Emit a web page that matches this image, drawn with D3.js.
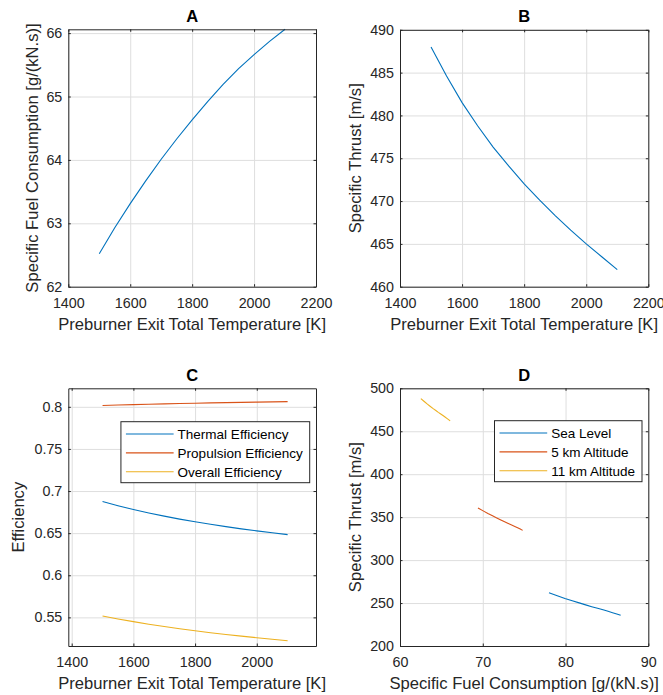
<!DOCTYPE html>
<html>
<head>
<meta charset="utf-8">
<script src="https://cdn.jsdelivr.net/npm/d3@7"></script>
<style>
  body { margin: 0; background: #fff; }
  svg { font-family: "Liberation Sans", Arial, Helvetica, sans-serif; }
  .grid line { stroke: #dedede; stroke-width: 1; }
  .grid path { display: none; }
  .axis path, .axis line { stroke: #262626; stroke-width: 1; }
  .axis text { fill: #262626; font-size: 14.3px; }
  .lab { fill: #262626; font-size: 16.6px; }
  .ttl { fill: #000; font-size: 16.5px; font-weight: bold; }
  .leg text { fill: #000; font-size: 13.5px; }
</style>
</head>
<body>
<svg id="chart" width="663" height="695"></svg>
<script>
// preburner exit total temperature [K]
var temps = [1500, 1550, 1600, 1650, 1700, 1750, 1800, 1850, 1900, 1950, 2000, 2050, 2100];

// 11 km altitude (panels A, B, D)
var sfc11 = [62.52, 62.93, 63.31, 63.67, 64.01, 64.33, 64.63, 64.92, 65.19, 65.44, 65.66, 65.87, 66.06];
var thrust11 = [488.0, 484.6, 481.5, 478.8, 476.3, 474.1, 472.0, 470.1, 468.3, 466.6, 465.0, 463.5, 462.0];

// efficiencies (panel C)
var thermalEff = [0.6875, 0.6826, 0.6781, 0.6740, 0.6702, 0.6667, 0.6635, 0.6605, 0.6577, 0.6551, 0.6527, 0.6504, 0.6482];
var propulsionEff = [0.8016, 0.8021, 0.8026, 0.8031, 0.8035, 0.8039, 0.8043, 0.8047, 0.8050, 0.8053, 0.8056, 0.8059, 0.8062];
var overallEff = [0.5516, 0.5481, 0.5449, 0.5419, 0.5391, 0.5365, 0.5341, 0.5318, 0.5297, 0.5277, 0.5258, 0.5240, 0.5223];
var effNames = ["Thermal Efficiency", "Propulsion Efficiency", "Overall Efficiency"];

// altitude sweep (panel D)
var sfcSea = [78.0, 79.0, 79.93, 80.81, 81.65, 82.43, 83.16, 83.87, 84.53, 85.14, 85.68, 86.19, 86.66];
var thrustSea = [261.9, 258.5, 255.4, 252.7, 250.2, 247.9, 245.8, 243.9, 242.1, 240.4, 238.8, 237.3, 235.8];
var sfc5 = [69.42, 70.05, 70.62, 71.18, 71.69, 72.18, 72.64, 73.08, 73.49, 73.87, 74.21, 74.53, 74.82];
var thrust5 = [360.7, 357.3, 354.2, 351.5, 349.0, 346.7, 344.6, 342.7, 340.9, 339.2, 337.6, 336.1, 334.6];
var altNames = ["Sea Level", "5 km Altitude", "11 km Altitude"];

var tempTicks = [1400, 1600, 1800, 2000, 2200];
var tempTicksC = [1400, 1600, 1800, 2000];
var sfcTicks = [62, 63, 64, 65, 66];
var thrustTicks = [460, 465, 470, 475, 480, 485, 490];
var effTicks = [0.55, 0.6, 0.65, 0.7, 0.75, 0.8];
var sfcTicksD = [60, 70, 80, 90];
var thrustTicksD = [200, 250, 300, 350, 400, 450, 500];

var colors = ["#0072BD", "#D95319", "#EDB120"];

var svg = d3.select("#chart");

function zip(xs, ys) {
    return xs.map(function(v, i) { return [v, ys[i]]; });
}

function fmt(d) { return String(+d.toFixed(2)); }

function drawPanel(p) {
    var g = svg.append("g"),
        w = p.right - p.left,
        h = p.bottom - p.top,
        tick = 2.5;

    var x = d3.scaleLinear().domain(p.xDomain).range([p.left, p.right]),
        y = d3.scaleLinear().domain(p.yDomain).range([p.bottom, p.top]);

    // grid first, under everything
    g.append("g").attr("class", "grid")
     .attr("transform", "translate(0," + p.bottom + ")")
     .call(d3.axisBottom(x).tickValues(p.xTicks).tickSize(-h).tickFormat(""));
    g.append("g").attr("class", "grid")
     .attr("transform", "translate(" + p.left + ",0)")
     .call(d3.axisLeft(y).tickValues(p.yTicks).tickSize(-w).tickFormat(""));

    var line = d3.line()
                 .x(function(d) { return x(d[0]); })
                 .y(function(d) { return y(d[1]); });

    g.selectAll(".series")
     .data(p.series)
     .enter()
     .append("path")
     .attr("class", "series")
     .attr("fill", "none")
     .attr("stroke-width", 1.1)
     .attr("stroke", function(d) { return d.color; })
     .attr("d", function(d) { return line(d.points); });

    // axes, ticks pointing inward like matlab
    g.append("g").attr("class", "axis")
     .attr("transform", "translate(0," + p.bottom + ")")
     .call(d3.axisBottom(x).tickValues(p.xTicks).tickSizeInner(-tick).tickSizeOuter(0).tickPadding(11).tickFormat(fmt));
    g.append("g").attr("class", "axis")
     .attr("transform", "translate(0," + p.top + ")")
     .call(d3.axisTop(x).tickValues(p.xTicks).tickSizeInner(-tick).tickSizeOuter(0).tickFormat(""));
    g.append("g").attr("class", "axis")
     .attr("transform", "translate(" + p.left + ",0)")
     .call(d3.axisLeft(y).tickValues(p.yTicks).tickSizeInner(-tick).tickSizeOuter(0).tickPadding(6).tickFormat(fmt));
    g.append("g").attr("class", "axis")
     .attr("transform", "translate(" + p.right + ",0)")
     .call(d3.axisRight(y).tickValues(p.yTicks).tickSizeInner(-tick).tickSizeOuter(0).tickFormat(""));

    g.append("text").attr("class", "ttl")
     .attr("x", (p.left + p.right) / 2)
     .attr("y", p.top - 13.3)
     .attr("dy", "0.35em")
     .attr("text-anchor", "middle")
     .text(p.title);

    g.append("text").attr("class", "lab")
     .attr("x", (p.left + p.right) / 2)
     .attr("y", p.bottom + 37)
     .attr("dy", "0.35em")
     .attr("text-anchor", "middle")
     .text(p.xLabel);

    g.append("text").attr("class", "lab")
     .attr("transform", "translate(" + p.yLabelX + "," + (p.top + p.bottom) / 2 + ") rotate(-90)")
     .attr("dy", "0.35em")
     .attr("text-anchor", "middle")
     .text(p.yLabel);

    if (p.legend) {
        var leg = g.append("g").attr("class", "leg"),
            rowGap = 18.9,
            lineLen = 47.7;
        var box = leg.append("rect")
                     .attr("fill", "#fff")
                     .attr("stroke", "#262626")
                     .attr("stroke-width", 1);
        var rows = leg.selectAll(".row")
                      .data(p.series)
                      .enter()
                      .append("g")
                      .attr("class", "row")
                      .attr("transform", function(d, i) { return "translate(0," + (12.3 + i * rowGap) + ")"; });
        rows.append("line")
            .attr("x1", 5).attr("x2", 5 + lineLen)
            .attr("stroke", function(d) { return d.color; })
            .attr("stroke-width", 1.1);
        rows.append("text")
            .attr("x", 5 + lineLen + 4)
            .attr("dy", "0.35em")
            .text(function(d) { return d.name; });
        var maxText = d3.max(rows.select("text").nodes(), function(n) { return n.getComputedTextLength(); });
        var lw = 5 + lineLen + 4 + maxText + 7,
            lh = 61;
        box.attr("width", lw).attr("height", lh);
        leg.attr("transform", "translate(" + (p.right - 6.3 - lw) + "," + (p.top + p.legendTop) + ")");
    }
}

drawPanel({
    title: "A",
    left: 68.3, right: 316, top: 29.3, bottom: 286.7,
    xDomain: [1400, 2200], yDomain: [62, 66.06],
    xTicks: tempTicks, yTicks: sfcTicks,
    xLabel: "Preburner Exit Total Temperature [K]",
    yLabel: "Specific Fuel Consumption [g/(kN.s)]",
    yLabelX: 31.7,
    series: [{name: "", color: colors[0], points: zip(temps, sfc11)}]
});

drawPanel({
    title: "B",
    left: 400, right: 648.3, top: 29.8, bottom: 286.7,
    xDomain: [1400, 2200], yDomain: [460, 490],
    xTicks: tempTicks, yTicks: thrustTicks,
    xLabel: "Preburner Exit Total Temperature [K]",
    yLabel: "Specific Thrust [m/s]",
    yLabelX: 355,
    series: [{name: "", color: colors[0], points: zip(temps, thrust11)}]
});

drawPanel({
    title: "C",
    left: 68.3, right: 316, top: 388.3, bottom: 646,
    xDomain: [1389, 2192], yDomain: [0.516, 0.822],
    xTicks: tempTicksC, yTicks: effTicks,
    xLabel: "Preburner Exit Total Temperature [K]",
    yLabel: "Efficiency",
    yLabelX: 18.3,
    legend: true, legendTop: 33.4,
    series: [
        {name: effNames[0], color: colors[0], points: zip(temps, thermalEff)},
        {name: effNames[1], color: colors[1], points: zip(temps, propulsionEff)},
        {name: effNames[2], color: colors[2], points: zip(temps, overallEff)}
    ]
});

drawPanel({
    title: "D",
    left: 400, right: 648.3, top: 388.3, bottom: 646,
    xDomain: [60, 90], yDomain: [200, 500],
    xTicks: sfcTicksD, yTicks: thrustTicksD,
    xLabel: "Specific Fuel Consumption [g/(kN.s)]",
    yLabel: "Specific Thrust [m/s]",
    yLabelX: 355,
    legend: true, legendTop: 32.4,
    series: [
        {name: altNames[0], color: colors[0], points: zip(sfcSea, thrustSea)},
        {name: altNames[1], color: colors[1], points: zip(sfc5, thrust5)},
        {name: altNames[2], color: colors[2], points: zip(sfc11, thrust11)}
    ]
});
</script>
</body>
</html>
